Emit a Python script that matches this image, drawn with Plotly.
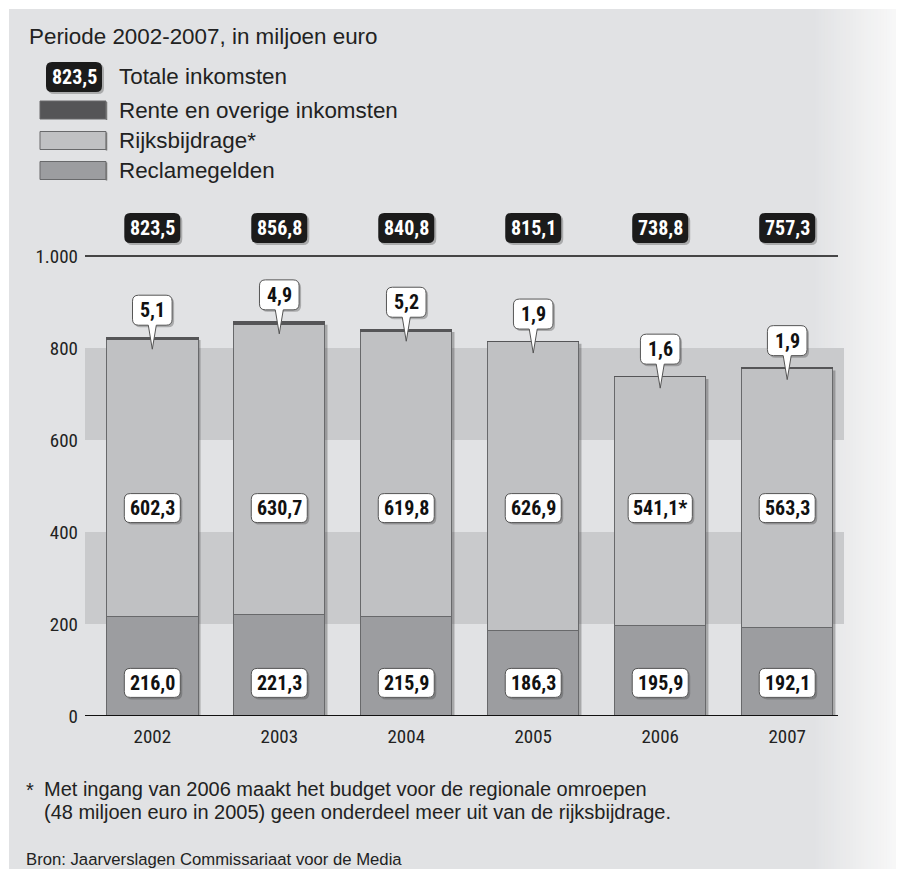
import plotly.graph_objects as go

# ---------------- data ----------------
years = ["2002", "2003", "2004", "2005", "2006", "2007"]
reclame = [216.0, 221.3, 215.9, 186.3, 195.9, 192.1]
rijks = [602.3, 630.7, 619.8, 626.9, 541.1, 563.3]
rente = [5.1, 4.9, 5.2, 1.9, 1.6, 1.9]
totals = [823.5, 856.8, 840.8, 815.1, 738.8, 757.3]
rijks_notes = ["", "", "", "", "*", ""]
y_ticks = [0, 200, 400, 600, 800, 1000]
y_tick_text = ["0", "200", "400", "600", "800", "1.000"]
bands = [(200, 400), (600, 800)]

title_text = "Periode 2002-2007, in miljoen euro"
legend_names = ["Totale inkomsten", "Rente en overige inkomsten", "Rijksbijdrage*", "Reclamegelden"]
footnote_1 = "Met ingang van 2006 maakt het budget voor de regionale omroepen"
footnote_2 = "(48 miljoen euro in 2005) geen onderdeel meer uit van de rijksbijdrage."
source_text = "Bron: Jaarverslagen Commissariaat voor de Media"

# ---------------- style ----------------
BG = "#e1e2e4"
BAND = "#c9cacc"
C_RECLAME = "#9c9da0"
C_RIJKS = "#c0c1c3"
C_RENTE = "#555557"
EDGE = "#68696b"
NARROW = "Roboto Condensed, DejaVu Sans Condensed, Liberation Sans Narrow, Roboto, sans-serif"
REG = "Liberation Sans, Arial, Helvetica, sans-serif"
TXT = "#222222"

OFF = 8  # page offset of the figure in the screenshot
W, H = 896, 861
L, T = 77, 202
PW, PH = 753, 506
R = W - L - PW
B = H - T - PH


def pxx(sx):
    return (sx - OFF - L) / PW


def pxy(sy):
    return (T + PH - (sy - OFF)) / PH


def fmt(v):
    return f"{v:.1f}".replace(".", ",")


def rrect(x0, y0, x1, y1, r, tip=None):
    """Rounded rect path in pixel units relative to anchor (y up). tip=(base_half, tip_y)."""
    p = f"M{x0 + r},{y0} "
    if tip is not None:
        bh, ty = tip
        p += f"L{-bh},{y0} L0,{ty} L{bh},{y0} "
    p += (f"L{x1 - r},{y0} Q{x1},{y0} {x1},{y0 + r} L{x1},{y1 - r} Q{x1},{y1} {x1 - r},{y1} "
          f"L{x0 + r},{y1} Q{x0},{y1} {x0},{y1 - r} L{x0},{y0 + r} Q{x0},{y0} {x0 + r},{y0} Z")
    return p


def box_w(s):
    return 15 + 8.2 * len(s)


xpos = list(range(len(years)))
bar_w = 0.72
XR = [-0.53, 5.40]
px_per_cat = PW / (XR[1] - XR[0])

fig = go.Figure()
fig.add_trace(go.Bar(x=xpos, y=reclame, name=legend_names[3], marker=dict(color=C_RECLAME, line=dict(color=EDGE, width=1)), width=bar_w))
fig.add_trace(go.Bar(x=xpos, y=rijks, name=legend_names[2], marker=dict(color=C_RIJKS, line=dict(color=EDGE, width=1)), width=bar_w))
fig.add_trace(go.Bar(x=xpos, y=rente, name=legend_names[1], marker=dict(color=C_RENTE, line=dict(color=C_RENTE, width=1)), width=bar_w))

shapes = []
annotations = []

# background panel
shapes.append(dict(type="rect", xref="paper", yref="paper", x0=pxx(9), x1=pxx(W + OFF + 2), y0=pxy(9), y1=pxy(H + OFF + 2),
                   fillcolor=BG, line=dict(width=0), layer="below"))
# right-side fade
n_strips = 30
x_start, x_end = 812, W + OFF + 1
c0 = (0xe1, 0xe2, 0xe4)
c1 = (0xfa, 0xfa, 0xfa)
for k in range(n_strips):
    t = (k + 0.5) / n_strips
    col = tuple(round(a + (b - a) * t) for a, b in zip(c0, c1))
    xa = x_start + (x_end - x_start) * k / n_strips
    xb = x_start + (x_end - x_start) * (k + 1) / n_strips + 0.5
    shapes.append(dict(type="rect", xref="paper", yref="paper", x0=pxx(xa), x1=pxx(xb), y0=pxy(9), y1=pxy(H + OFF + 2),
                       fillcolor="rgb(%d,%d,%d)" % col, line=dict(width=0), layer="below"))

# bands
for lo, hi in bands:
    shapes.append(dict(type="rect", xref="paper", yref="y", x0=0, x1=pxx(844), y0=lo, y1=hi,
                       fillcolor=BAND, line=dict(width=0), layer="below"))

# bar shadows
for i, tot in zip(xpos, totals):
    shapes.append(dict(type="rect", xref="x", yref="y", xsizemode="pixel", xanchor=i,
                       x0=bar_w / 2 * px_per_cat - 0.5, x1=bar_w / 2 * px_per_cat + 2.5, y0=0, y1=tot - 6,
                       fillcolor="rgba(60,60,60,0.35)", line=dict(width=0), layer="below"))

# top line at 1000 and baseline
shapes.append(dict(type="line", xref="paper", yref="y", x0=0, x1=1, y0=y_ticks[-1], y1=y_ticks[-1],
                   line=dict(color="#111111", width=1.6), layer="above"))
shapes.append(dict(type="line", xref="paper", yref="y", x0=0, x1=1, y0=0, y1=0,
                   line=dict(color="#111111", width=2.2), layer="above"))


def add_box(xref, xanchor, yref, yanchor, text, fill, line, txtcol, tip=None, h=29, yoff=0, size=20, shadow=True):
    w = box_w(text)
    y0 = yoff - h / 2
    y1 = yoff + h / 2
    path = rrect(-w / 2, y0, w / 2, y1, 6, tip)
    if shadow:
        spath = rrect(-w / 2 + 2, y0 - 2, w / 2 + 2, y1 - 2, 6, None)
        shapes.append(dict(type="path", xref=xref, yref=yref, xsizemode="pixel", ysizemode="pixel",
                           xanchor=xanchor, yanchor=yanchor, path=spath,
                           fillcolor="rgba(70,70,70,0.35)", line=dict(width=0), layer="above"))
    shapes.append(dict(type="path", xref=xref, yref=yref, xsizemode="pixel", ysizemode="pixel",
                       xanchor=xanchor, yanchor=yanchor, path=path,
                       fillcolor=fill, line=line, layer="above"))
    annotations.append(dict(xref=xref, yref=yref, x=xanchor, y=yanchor, yshift=yoff, text="<b>" + text + "</b>",
                            showarrow=False, font=dict(family=NARROW, size=size, color=txtcol),
                            xanchor="center", yanchor="middle"))


TOT_Y = 1061
RIJKS_Y = 452
RECL_Y = 72
for i in xpos:
    add_box("x", i, "y", TOT_Y, fmt(totals[i]), "#1b1b1b", dict(width=0), "white", h=30)
    add_box("x", i, "y", totals[i], fmt(rente[i]), "white", dict(color="#555555", width=1), "#111111",
            tip=(4, -12), h=30, yoff=27)
    add_box("x", i, "y", RIJKS_Y, fmt(rijks[i]) + rijks_notes[i], "white", dict(color="#555555", width=1), "#111111", h=29)
    add_box("x", i, "y", RECL_Y, fmt(reclame[i]), "white", dict(color="#555555", width=1), "#111111", h=29)

# title
annotations.append(dict(xref="paper", yref="paper", x=pxx(27), y=pxy(36), text=title_text, showarrow=False,
                        xanchor="left", yanchor="middle", font=dict(family=REG, size=22.4, color=TXT)))

# legend
add_box("paper", pxx(74), "paper", pxy(77), "823,5", "#1b1b1b", dict(width=0), "white", h=30)
annotations.append(dict(xref="paper", yref="paper", x=pxx(117), y=pxy(77), text=legend_names[0], showarrow=False,
                        xanchor="left", yanchor="middle", font=dict(family=REG, size=22.4, color=TXT)))
leg_items = [(legend_names[1], C_RENTE, 110), (legend_names[2], C_RIJKS, 140.5), (legend_names[3], C_RECLAME, 170.5)]
for name, col, cy in leg_items:
    shapes.append(dict(type="rect", xref="paper", yref="paper", x0=pxx(40), x1=pxx(106), y0=pxy(cy - 9), y1=pxy(cy + 9),
                       fillcolor=col, line=dict(color=EDGE, width=1), layer="above"))
    shapes.append(dict(type="line", xref="paper", yref="paper", x0=pxx(106.5), x1=pxx(106.5), y0=pxy(cy - 8), y1=pxy(cy + 10),
                       line=dict(color="#777777", width=1.5), layer="above"))
    annotations.append(dict(xref="paper", yref="paper", x=pxx(117), y=pxy(cy), text=name, showarrow=False,
                            xanchor="left", yanchor="middle", font=dict(family=REG, size=22.4, color=TXT)))

# footnotes
annotations.append(dict(xref="paper", yref="paper", x=pxx(24), y=pxy(790), text="*", showarrow=False,
                        xanchor="left", yanchor="middle", font=dict(family=REG, size=20, color=TXT)))
annotations.append(dict(xref="paper", yref="paper", x=pxx(42), y=pxy(789), text=footnote_1, showarrow=False,
                        xanchor="left", yanchor="middle", font=dict(family=REG, size=20, color=TXT)))
annotations.append(dict(xref="paper", yref="paper", x=pxx(42), y=pxy(812), text=footnote_2, showarrow=False,
                        xanchor="left", yanchor="middle", font=dict(family=REG, size=20, color=TXT)))
annotations.append(dict(xref="paper", yref="paper", x=pxx(24), y=pxy(859), text=source_text, showarrow=False,
                        xanchor="left", yanchor="middle", font=dict(family=REG, size=16.7, color=TXT)))

fig.update_layout(
    width=W, height=H,
    margin=dict(l=L, r=R, t=T, b=B, pad=0),
    barmode="stack",
    showlegend=False,
    paper_bgcolor="white",
    plot_bgcolor="rgba(0,0,0,0)",
    shapes=shapes,
    annotations=annotations,
    xaxis=dict(range=XR, tickvals=xpos, ticktext=years, showgrid=False, zeroline=False, showline=False,
               ticks="", ticklabelstandoff=7, tickfont=dict(family=NARROW, size=19, color=TXT), fixedrange=True),
    yaxis=dict(range=[0, 1100], tickvals=y_ticks, ticktext=y_tick_text, showgrid=False, zeroline=False, showline=False,
               ticks="", ticklabelstandoff=6, tickfont=dict(family=NARROW, size=19, color=TXT), fixedrange=True),
)

fig.write_html("out.html")
